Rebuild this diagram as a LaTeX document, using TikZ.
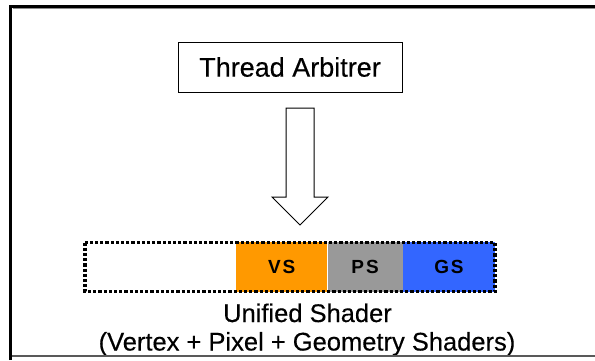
\documentclass[tikz,border=0pt]{standalone}
\usepackage{fontspec}
\setmainfont[FakeBold=0.35]{Liberation Sans}
\newfontfamily\stagefont[LetterSpace=10]{Liberation Sans}
\begin{document}
\begin{tikzpicture}[x=1pt,y=-1pt,
  arbiter/.style={draw=black, line width=1pt, fill=white, inner sep=0pt,
    minimum width=224pt, minimum height=50pt,
    font=\fontsize{27}{30}\selectfont},
  stage/.style={inner sep=0pt, minimum height=50pt, anchor=north west,
    font=\stagefont\bfseries\fontsize{19}{22}\selectfont},
  caption/.style={inner sep=0pt, anchor=base, font=\fontsize{25.5}{28}\selectfont},
  blockarrow/.style={draw=black, line width=1pt, fill=white}]
\useasboundingbox (0,0) rectangle (595,360);
\fill[white] (0,0) rectangle (595,360);

% frame
\draw[line width=3.5pt] (10.5,360) -- (10.5,6.5) -- (595,6.5);
\draw[black!45, line width=0.8pt] (12.5,8.8) -- (595,8.8);

% arbiter box
\node[arbiter] (arb) at (290,67) {Thread Arbitrer};

% shader stages
\node[stage, fill={rgb,255:red,255;green,153;blue,0}, minimum width=91pt] (vs) at (236,242) {VS};
\node[stage, fill={rgb,255:red,153;green,153;blue,153}, minimum width=75pt] (ps) at (vs.north east) {PS};
\node[stage, fill={rgb,255:red,51;green,102;blue,255}, minimum width=92pt] (gs) at (ps.north east) {GS};

% dotted outline of the unified shader
\coordinate (ushTL) at (85,242.5);
\coordinate (ushBR) at (495,291.5);
\draw[line width=3.2pt, dash pattern=on 3.2pt off 2pt] (ushTL) rectangle (ushBR);

% block arrow from the arbiter down to the shader
\coordinate (tip) at (300,225);
\draw[blockarrow] (286,108) -- (314,108) -- (314,197) -- (328,197) -- (tip)
  -- (272,197) -- (286,197) -- cycle;

% captions
\begin{scope}
\clip (0,0) rectangle (595,354.5);
\node[caption] (cap1) at (307.5,322) {Unified Shader};
\node[caption] (cap2) at (307,350.5) {(Vertex + Pixel + Geometry Shaders)};
\end{scope}
\draw[black!65, line width=2pt] (12,356) -- (595,356);
\end{tikzpicture}
\end{document}
